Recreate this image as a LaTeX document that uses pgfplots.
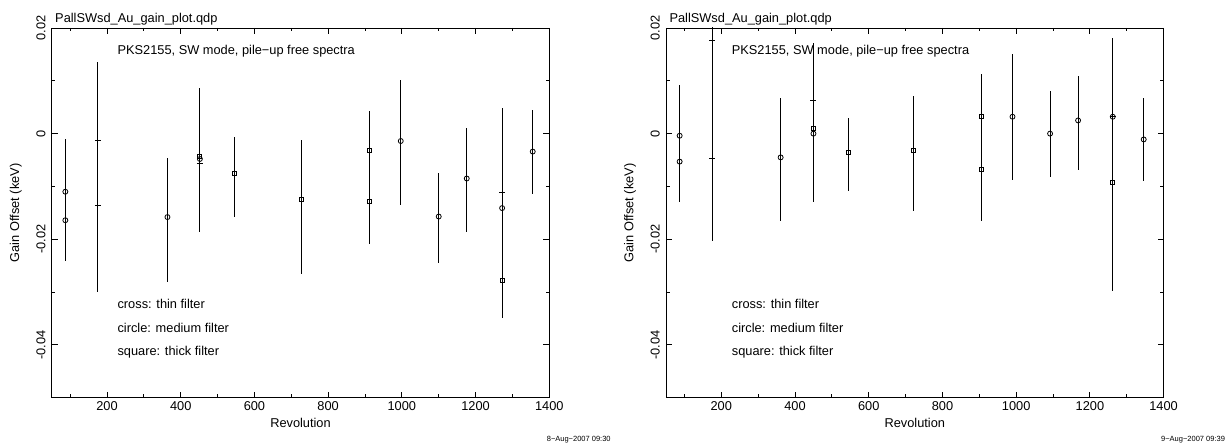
\documentclass[border=0pt]{standalone}
\usepackage{fontspec}
\setmainfont{Liberation Sans}
\usepackage{pgfplots}
\pgfplotsset{compat=1.18}
\usepackage{pgfplotstable}

\newcommand\fs{\fontsize{12.8bp}{15bp}\selectfont}

% left panel (8-Aug)
\pgfplotstableread{
x y ep em
87 -0.0110 0.0100 0.0100
87 -0.0164 0.0078 0.0078
364 -0.0158 0.0111 0.0123
452 -0.0048 0.0110 0.0110
997 -0.0014 0.0116 0.0122
1100 -0.0157 0.0082 0.0088
1176 -0.0085 0.0096 0.0101
1272 -0.0141 0.0189 0.0190
1355 -0.0034 0.0079 0.0080
}\Lcirc
\pgfplotstableread{
x y ep em
175 -0.0013 0.0149 0.0149
175 -0.0136 0.0163 0.0163
452 -0.0056 0.0131 0.0131
1272 -0.0112 0.0130 0.0130
}\Lcross
\pgfplotstableread{
x y ep em
452 -0.0044 0.0130 0.0130
547 -0.0075 0.0069 0.0082
727 -0.0124 0.0112 0.0142
912 -0.0032 0.0075 0.0075
912 -0.0129 0.0080 0.0080
1272 -0.0277 0.0073 0.0073
}\Lsq

% right panel (9-Aug)
\pgfplotstableread{
x y ep em
87 -0.0004 0.0097 0.0097
87 -0.0053 0.0077 0.0077
361 -0.0045 0.0113 0.0120
450 0.0000 0.0130 0.0130
990 0.0032 0.0119 0.0120
1092 0.0000 0.0081 0.0083
1168 0.0025 0.0085 0.0093
1262 0.0032 0.0150 0.0150
1346 -0.0011 0.0078 0.0079
}\Rcirc
\pgfplotstableread{
x y ep em
175 0.0176 0.0140 0.0140
175 -0.0047 0.0157 0.0157
450 0.0062 0.0110 0.0110
1262 0.0032 0.0130 0.0130
}\Rcross
\pgfplotstableread{
x y ep em
450 0.0010 0.0120 0.0120
544 -0.0035 0.0064 0.0074
722 -0.0032 0.0103 0.0115
905 0.0033 0.0079 0.0079
905 -0.0068 0.0097 0.0097
1262 -0.0092 0.0206 0.0206
}\Rsq

\pgfplotsset{
  gainax/.style={
    scale only axis, width=497.6bp, height=369.7bp,
    xmin=50, xmax=1400, ymin=-0.05, ymax=0.02,
    clip mode=individual,
    xtick={200,400,...,1400},
    xticklabels={200,400,600,800,1000,1200,1400},
    minor xtick={100,300,...,1300},
    ytick={-0.04,-0.02,0,0.02},
    yticklabels={-0.04,-0.02,0,0.02},
    minor ytick={-0.03,-0.01,0.01},
    scaled y ticks=false,
    major tick length=6bp, minor tick length=3.5bp,
    tick style={black, line width=0.8bp},
    axis line style={line width=0.8bp},
    yticklabel style={rotate=90, anchor=south, inner ysep=6bp},
    xlabel={Revolution}, ylabel={Gain Offset (keV)},
    xlabel style={at={(axis description cs:0.5,-0.0685)}, anchor=center},
    ylabel style={at={(axis description cs:-0.0723,0.5)}, anchor=center},
  },
  eb/.style={error bars/.cd, y dir=both, y explicit, error mark=none,
    error bar style={line width=0.8bp, black}},
  pcirc/.style={only marks, mark=o, mark size=2.5bp, mark options={line width=0.8bp, black}},
  pcross/.style={only marks, mark=+, mark size=3bp, mark options={line width=0.8bp, black}},
  psq/.style={only marks, mark=square, mark size=2bp, mark options={line width=0.8bp, black}},
}
\tikzset{datef/.style={anchor=base west, font=\fontsize{7.5bp}{9bp}\selectfont}}

\begin{document}
\begin{tikzpicture}[font=\fs]
\path[use as bounding box] (0,0) rectangle (1225bp,443bp);

\begin{axis}[gainax, at={(51.7bp,45.3bp)}, anchor=south west]
\addplot[pcirc, eb] table[x=x, y=y, y error plus=ep, y error minus=em] {\Lcirc};
\addplot[pcross, eb] table[x=x, y=y, y error plus=ep, y error minus=em] {\Lcross};
\addplot[psq, eb] table[x=x, y=y, y error plus=ep, y error minus=em] {\Lsq};
\node[anchor=base west] at (axis description cs:0,1.0138) {PallSWsd\_Au\_gain\_plot.qdp};
\node[anchor=base west] at (axis description cs:0.1253,0.927) {PKS2155, SW mode, pile−up free spectra};
\node[anchor=base west] at (axis description cs:0.1253,0.240) {cross: thin filter};
\node[anchor=base west] at (axis description cs:0.1253,0.177) {circle: medium filter};
\node[anchor=base west] at (axis description cs:0.1253,0.1136) {square: thick filter};
\node[datef] at (axis description cs:0.988,-0.1185) {8−Aug−2007 09:30};
\end{axis}

\begin{axis}[gainax, at={(666bp,45.3bp)}, anchor=south west]
\addplot[pcirc, eb] table[x=x, y=y, y error plus=ep, y error minus=em] {\Rcirc};
\addplot[pcross, eb] table[x=x, y=y, y error plus=ep, y error minus=em] {\Rcross};
\addplot[psq, eb] table[x=x, y=y, y error plus=ep, y error minus=em] {\Rsq};
\node[anchor=base west] at (axis description cs:0,1.0138) {PallSWsd\_Au\_gain\_plot.qdp};
\node[anchor=base west] at (axis description cs:0.1253,0.927) {PKS2155, SW mode, pile−up free spectra};
\node[anchor=base west] at (axis description cs:0.1253,0.240) {cross: thin filter};
\node[anchor=base west] at (axis description cs:0.1253,0.177) {circle: medium filter};
\node[anchor=base west] at (axis description cs:0.1253,0.1136) {square: thick filter};
\node[datef] at (axis description cs:0.988,-0.1185) {9−Aug−2007 09:39};
\end{axis}
\end{tikzpicture}
\end{document}
